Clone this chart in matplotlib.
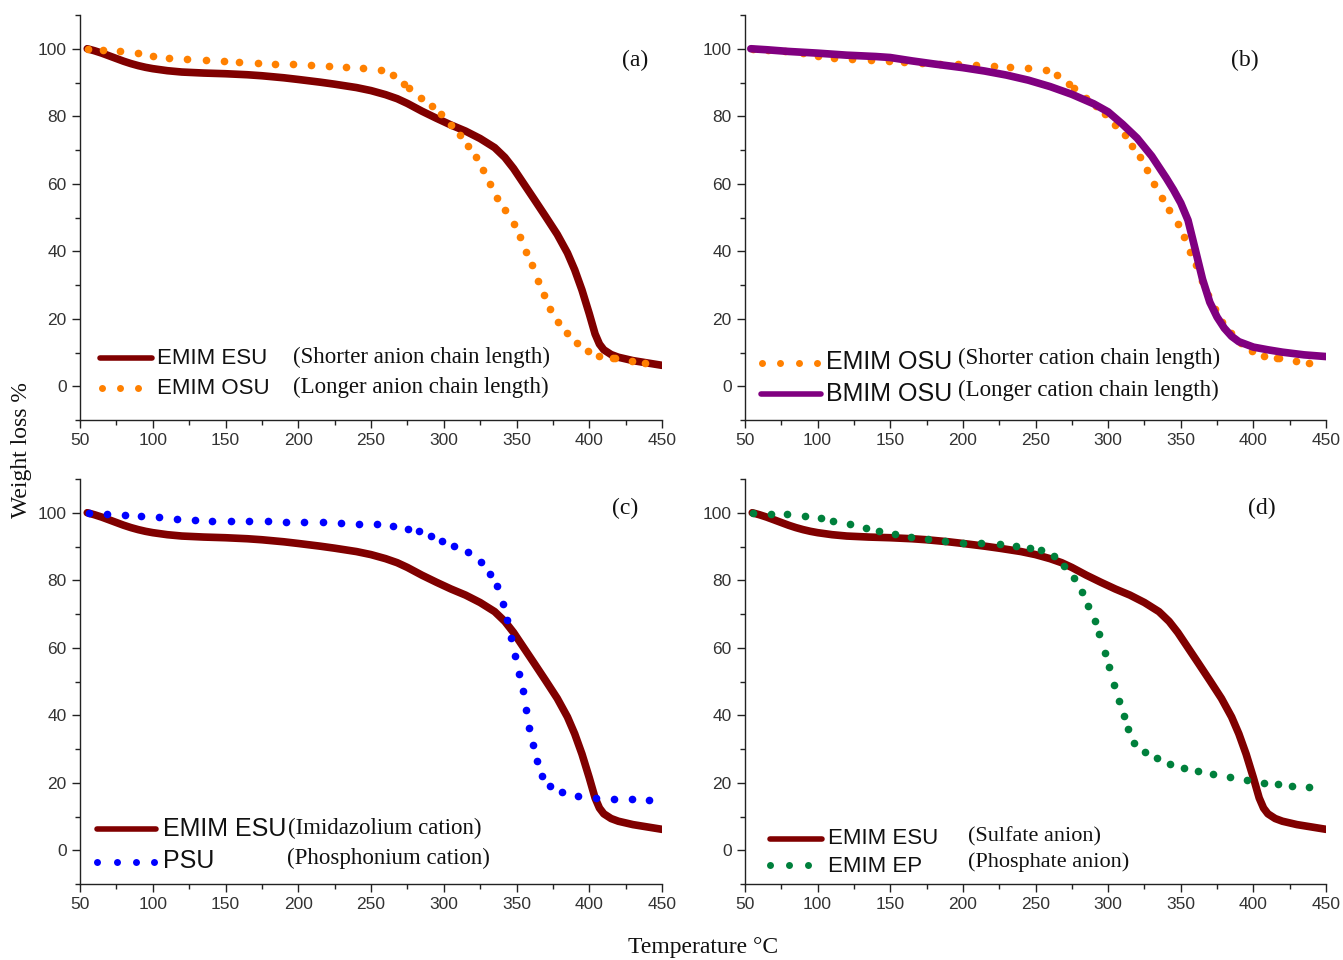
import matplotlib
matplotlib.use("Agg")
import matplotlib.pyplot as plt
from matplotlib.ticker import MultipleLocator

# ---------------- data ----------------
esu_T = [55, 60, 65, 70, 75, 80, 85, 90, 95, 100, 110, 120, 135, 150, 165, 175, 190, 200,
         215, 225, 240, 250, 260, 268, 275, 285, 295, 305, 315, 325, 335, 342, 348, 355,
         362, 370, 378, 385, 390, 395, 400, 404, 407, 410, 415, 420, 430, 440, 450]
esu_W = [100, 99.4, 98.7, 97.9, 97.1, 96.3, 95.6, 95.0, 94.5, 94.1, 93.5, 93.1, 92.8, 92.6,
         92.3, 92.0, 91.4, 90.9, 90.1, 89.5, 88.5, 87.6, 86.4, 85.2, 83.8, 81.5, 79.4, 77.4,
         75.6, 73.4, 70.7, 67.8, 64.5, 60.0, 55.5, 50.3, 45.0, 39.5, 34.5, 28.5, 21.5, 15.5,
         12.5, 10.8, 9.4, 8.6, 7.6, 6.9, 6.2]

osu_T = [55.7, 65.8, 77.7, 89.7, 100.1, 111.1, 123.7, 136.5, 149.1, 159.2, 172.0, 184.2,
         196.5, 209.0, 221.2, 232.6, 244.8, 257.0, 265.1, 272.8, 276.4, 284.5, 291.9, 297.9,
         304.7, 311.3, 316.7, 322.0, 326.8, 331.9, 336.9, 342.0, 348.3, 352.5, 356.6, 360.5,
         364.7, 368.9, 373.3, 378.7, 384.4, 391.5, 399.0, 407.0, 416.3, 417.5, 429.4, 438.1]
osu_W = [100, 99.5, 99.2, 98.7, 97.9, 97.3, 96.9, 96.6, 96.3, 96.0, 95.9, 95.6,
         95.5, 95.2, 94.9, 94.7, 94.4, 93.7, 92.3, 89.6, 88.3, 85.3, 83.0, 80.7,
         77.5, 74.5, 71.2, 67.8, 64.1, 59.9, 55.9, 52.3, 48.2, 44.2, 39.8, 35.9,
         31.2, 26.9, 22.8, 19.1, 15.7, 12.8, 10.5, 9.0, 8.3, 8.3, 7.4, 6.8]

bmim_T = [54, 65, 80, 100, 120, 140, 150, 165, 180, 200, 215, 230, 245, 260, 275, 290, 300,
          310, 320, 330, 340, 345, 350, 355, 360, 365, 370, 375, 380, 385, 390, 400, 410,
          420, 435, 450]
bmim_W = [100, 99.7, 99.2, 98.7, 98.1, 97.7, 97.4, 96.4, 95.5, 94.4, 93.4, 92.2, 90.7, 88.8,
          86.5, 83.7, 81.3, 77.6, 73.5, 68.2, 61.7, 58.2, 54.3, 49.2, 40.5, 31.7, 24.9, 20.5,
          17.2, 14.8, 13.2, 11.6, 10.8, 10.1, 9.3, 8.8]

psu_T = [56.0, 68.5, 81.0, 92.1, 104.6, 116.5, 129.0, 141.0, 153.5, 166.0, 178.9, 191.4,
         204.0, 216.7, 229.6, 241.8, 254.3, 265.1, 275.2, 282.7, 291.0, 298.8, 307.1, 316.7,
         325.3, 331.6, 336.4, 340.5, 343.5, 346.5, 349.2, 351.9, 354.3, 356.6, 358.7, 361.1,
         363.8, 367.4, 373.3, 381.1, 392.1, 404.4, 416.9, 429.4, 441.4]
psu_W = [100, 99.7, 99.4, 99.0, 98.6, 98.2, 98.0, 97.7, 97.6, 97.5, 97.5, 97.3,
         97.2, 97.2, 97.0, 96.8, 96.6, 96.0, 95.3, 94.5, 93.2, 91.7, 90.2, 88.5,
         85.5, 82.0, 78.2, 73.1, 68.1, 62.9, 57.7, 52.3, 47.2, 41.6, 36.3, 31.3,
         26.3, 22.1, 19.1, 17.3, 16.1, 15.5, 15.2, 15.2, 14.9]

ep_T = [55.2, 68.0, 79.1, 91.3, 102.1, 110.8, 122.5, 133.0, 142.0, 153.3, 164.1, 175.8,
        187.4, 199.9, 212.4, 225.3, 236.9, 245.9, 254.1, 262.5, 269.8, 276.5, 281.7, 286.4,
        290.8, 294.0, 297.7, 300.9, 304.1, 307.6, 310.6, 313.8, 318.1, 325.4, 333.8, 342.6,
        352.2, 362.1, 372.0, 383.9, 395.6, 407.5, 416.8, 426.4, 438.4]
ep_W = [100, 99.7, 99.5, 99.0, 98.4, 97.6, 96.7, 95.5, 94.6, 93.6, 92.7, 92.1,
        91.6, 91.1, 91.0, 90.7, 90.2, 89.7, 88.9, 87.1, 84.3, 80.6, 76.6, 72.4,
        68.0, 64.0, 58.5, 54.2, 49.0, 44.1, 39.8, 35.9, 31.8, 29.0, 27.2, 25.7,
        24.4, 23.4, 22.6, 21.6, 20.7, 20.0, 19.5, 19.0, 18.7]

x_ticks = [50, 100, 150, 200, 250, 300, 350, 400, 450]
y_ticks = [0, 20, 40, 60, 80, 100]

# ---------------- style ----------------
C_ESU = "#800000"
C_OSU = "#ff8000"
C_BMIM = "#800080"
C_PSU = "#0000ff"
C_EP = "#00803c"

SANS = ["Liberation Sans", "DejaVu Sans"]
TICKF = ["Liberation Sans Narrow", "Liberation Sans", "DejaVu Sans"]
SERIF = ["Liberation Serif", "DejaVu Serif"]

W, H = 1343, 960
fig = plt.figure(figsize=(W / 100, H / 100), dpi=100)

boxes = {
    "a": (80, 15, 662, 420),
    "b": (745, 15, 1326, 420),
    "c": (80, 479, 662, 884),
    "d": (745, 479, 1326, 884),
}

axes = {}
for k, (x0, y0, x1, y1) in boxes.items():
    ax = fig.add_axes([x0 / W, 1 - y1 / H, (x1 - x0) / W, (y1 - y0) / H])
    ax.set_xlim(50, 450)
    ax.set_ylim(-10, 110)
    ax.set_xticks(x_ticks)
    ax.set_yticks(y_ticks)
    ax.xaxis.set_minor_locator(MultipleLocator(25))
    ax.yaxis.set_minor_locator(MultipleLocator(10))
    for s in ("top", "right"):
        ax.spines[s].set_visible(False)
    for s in ("left", "bottom"):
        ax.spines[s].set_linewidth(1.0)
        ax.spines[s].set_color("#222222")
    ax.tick_params(which="major", direction="out", length=6, width=1, color="#222222",
                   labelsize=12.5, labelcolor="#333333")
    ax.tick_params(which="minor", direction="out", length=3.5, width=1, color="#222222")
    for lab in ax.get_xticklabels() + ax.get_yticklabels():
        lab.set_family(TICKF)
    axes[k] = ax


def px2ax(k, px, py):
    x0, y0, x1, y1 = boxes[k]
    return (px - x0) / (x1 - x0), (y1 - py) / (y1 - y0)


def legend_line(k, color, px0, px1, py, lw=4):
    ax = axes[k]
    a0 = px2ax(k, px0, py)
    a1 = px2ax(k, px1, py)
    ax.plot([a0[0], a1[0]], [a0[1], a1[1]], color=color, lw=lw, solid_capstyle="round",
            transform=ax.transAxes, clip_on=False)


def legend_dots(k, color, pxs, py, ms=5):
    ax = axes[k]
    pts = [px2ax(k, p, py) for p in pxs]
    ax.plot([p[0] for p in pts], [p[1] for p in pts], "o", color=color, ms=ms, mew=0,
            transform=ax.transAxes, clip_on=False)


def label(k, px, py, s, size, family, ha="left"):
    ax = axes[k]
    x, y = px2ax(k, px, py)
    ax.text(x, y, s, transform=ax.transAxes, fontsize=size, family=family, ha=ha,
            va="center", color="#111111")


MS = 5.5
LW = 5.5

# (a)
ax = axes["a"]
ax.plot(esu_T, esu_W, color=C_ESU, lw=LW, solid_capstyle="round", solid_joinstyle="round", zorder=2)
ax.plot(osu_T, osu_W, "o", color=C_OSU, ms=MS, mew=0, zorder=3)
legend_line("a", C_ESU, 100, 152, 358)
label("a", 157, 359, "EMIM ESU", 16, SANS)
label("a", 293, 357, "(Shorter anion chain length)", 16.5, SERIF)
legend_dots("a", C_OSU, [102, 120, 138], 388)
label("a", 157, 388, "EMIM OSU", 16, SANS)
label("a", 293, 387, "(Longer anion chain length)", 16.5, SERIF)
label("a", 635, 60, "(a)", 17, SERIF, ha="center")

# (b)
ax = axes["b"]
ax.plot(osu_T, osu_W, "o", color=C_OSU, ms=MS, mew=0, zorder=2)
ax.plot(bmim_T, bmim_W, color=C_BMIM, lw=LW, solid_capstyle="round", solid_joinstyle="round", zorder=3)
legend_dots("b", C_OSU, [762, 780, 799, 817], 363)
label("b", 826, 362, "EMIM OSU", 18, SANS)
label("b", 958, 358, "(Shorter cation chain length)", 16.5, SERIF)
legend_line("b", C_BMIM, 761, 821, 394)
label("b", 826, 394, "BMIM OSU", 18, SANS)
label("b", 958, 390, "(Longer cation chain length)", 16.5, SERIF)
label("b", 1245, 60, "(b)", 17, SERIF, ha="center")

# (c)
ax = axes["c"]
ax.plot(esu_T, esu_W, color=C_ESU, lw=LW, solid_capstyle="round", solid_joinstyle="round", zorder=2)
ax.plot(psu_T, psu_W, "o", color=C_PSU, ms=MS, mew=0, zorder=3)
legend_line("c", C_ESU, 97, 156, 829)
label("c", 163, 829, "EMIM ESU", 18, SANS)
label("c", 288, 828, "(Imidazolium cation)", 16.5, SERIF)
legend_dots("c", C_PSU, [97, 117, 136, 154], 862)
label("c", 163, 861, "PSU", 18, SANS)
label("c", 287, 858, "(Phosphonium cation)", 16.5, SERIF)
label("c", 625, 508, "(c)", 17, SERIF, ha="center")

# (d)
ax = axes["d"]
ax.plot(esu_T, esu_W, color=C_ESU, lw=LW, solid_capstyle="round", solid_joinstyle="round", zorder=2)
ax.plot(ep_T, ep_W, "o", color=C_EP, ms=MS, mew=0, zorder=3)
legend_line("d", C_ESU, 770, 822, 839)
label("d", 828, 839, "EMIM ESU", 16, SANS)
label("d", 968, 837, "(Sulfate anion)", 16, SERIF)
legend_dots("d", C_EP, [770, 789, 808], 865)
label("d", 828, 866, "EMIM EP", 16, SANS)
label("d", 968, 862, "(Phosphate anion)", 16, SERIF)
label("d", 1262, 508, "(d)", 17, SERIF, ha="center")

# shared axis labels
fig.text(22 / W, 1 - 450 / H, "Weight loss %", rotation=90, ha="center", va="center",
         fontsize=17, family=SERIF, color="#111111")
fig.text(703 / W, 1 - 947 / H, "Temperature \u00b0C", ha="center", va="center",
         fontsize=17, family=SERIF, color="#111111")

fig.savefig("out.png", dpi=100)
